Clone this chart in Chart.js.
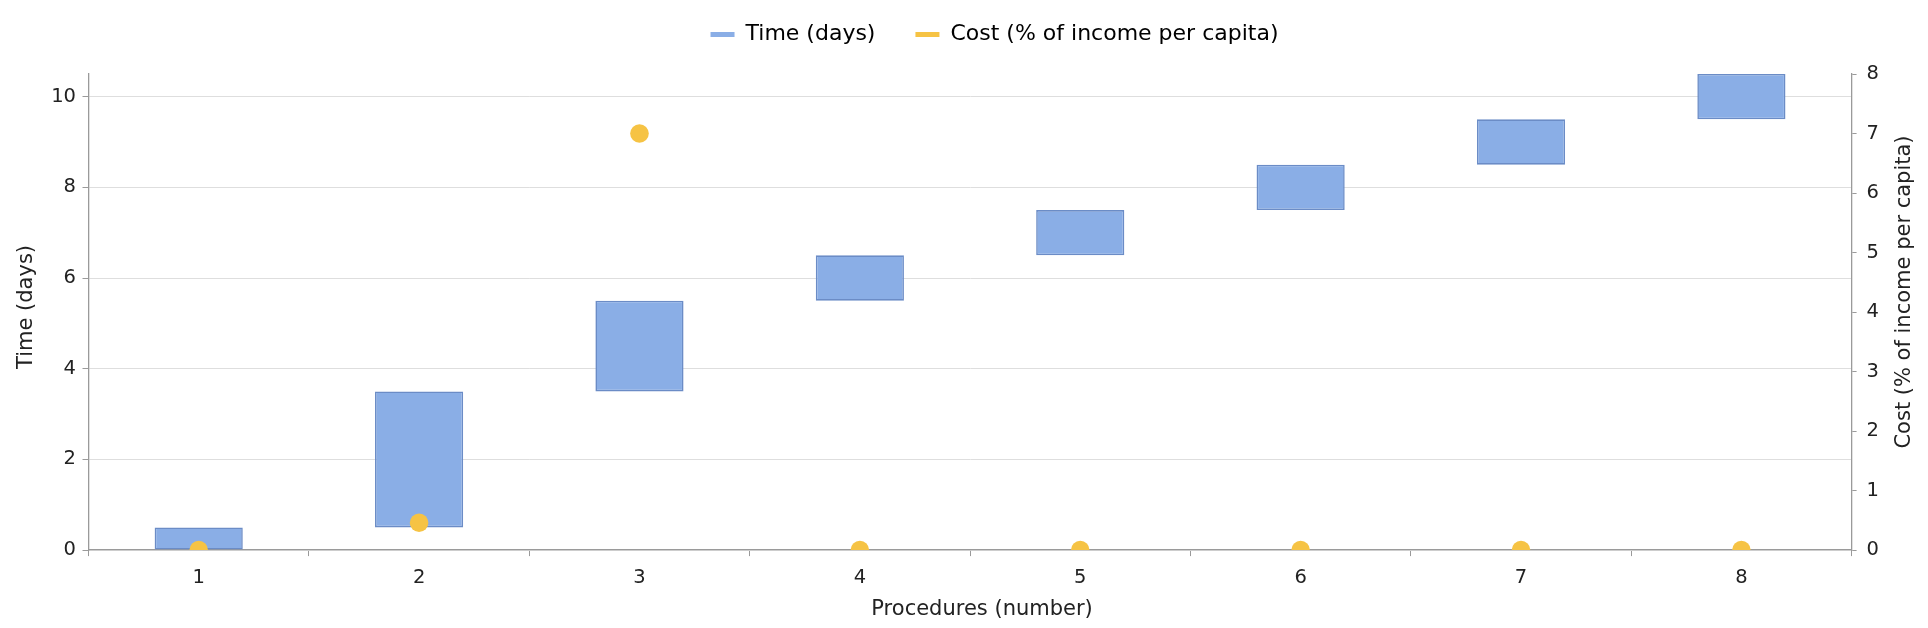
<!DOCTYPE html>
<html>
<head>
<meta charset="utf-8">
<script src="https://cdn.jsdelivr.net/npm/chart.js@4"></script>
<style>
  html, body { margin: 0; padding: 0; background: #ffffff; }
  #wrap { width: 1928px; height: 628px; position: relative; }
  canvas { display: block; }
</style>
</head>
<body>
<div id="wrap"><canvas id="c" width="1928" height="628"></canvas></div>
<script>
const categories = ['1', '2', '3', '4', '5', '6', '7', '8'];
const timeStart = [0, 0.5, 3.5, 5.5, 6.5, 7.5, 8.5, 9.5];
const timeEnd = [0.5, 3.5, 5.5, 6.5, 7.5, 8.5, 9.5, 10.5];
const costValues = [0, 0.46, 7.0, 0, 0, 0, 0, 0];
const seriesNames = ['Time (days)', 'Cost (% of income per capita)'];
const xTitle = 'Procedures (number)';
const yTitle = 'Time (days)';
const y1Title = 'Cost (% of income per capita)';

const BLUE = '#8aaee6';
const BLUE_BORDER = '#6b8cc6';
const YELLOW = '#f6c344';
const AXIS = '#9a9a9a';
const TEXT = '#222222';
const FONT = '"DejaVu Sans", sans-serif';

const timeRanges = timeStart.map((s, i) => [s, timeEnd[i]]);

const tweak = {
  id: 'tweak',
  beforeLayout(chart) {
    const lg = chart.legend;
    if (lg && !lg.__patched) {
      const orig = lg.fit;
      lg.fit = function () { orig.call(this); this.height = 74; };
      lg.__patched = true;
    }
  },
  afterLayout(chart) {
    const lg = chart.legend;
    if (lg) {
      lg.top -= 16.5; lg.bottom -= 16.5;
      lg.left += 30.5; lg.right += 30.5;
    }
  },
  afterDraw(chart) {
    const ctx = chart.ctx;
    const area = chart.chartArea;
    ctx.save();
    ctx.fillStyle = TEXT;
    ctx.font = '21px ' + FONT;
    ctx.textAlign = 'center';
    ctx.textBaseline = 'middle';
    ctx.fillText(xTitle, area.left + (area.right - area.left) / 2 + 12, 610);
    ctx.save();
    ctx.translate(chart.scales.y.left + 26.7, 307);
    ctx.rotate(-Math.PI / 2);
    ctx.fillText(yTitle, 0, 0);
    ctx.restore();
    ctx.save();
    ctx.translate(chart.scales.y1.right - 23, 292);
    ctx.rotate(-Math.PI / 2);
    ctx.fillText(y1Title, 0, 0);
    ctx.restore();
    ctx.restore();
  }
};

new Chart(document.getElementById('c'), {
  type: 'bar',
  data: {
    labels: categories,
    datasets: [
      {
        label: seriesNames[0],
        data: timeRanges,
        backgroundColor: BLUE,
        borderColor: BLUE_BORDER,
        borderWidth: 1.6,
        borderSkipped: false,
        barPercentage: 0.5,
        categoryPercentage: 0.8,
        yAxisID: 'y',
        order: 1
      },
      {
        type: 'line',
        label: seriesNames[1],
        data: costValues,
        showLine: false,
        clip: 0,
        pointRadius: 9.3,
        pointHoverRadius: 9.3,
        pointBackgroundColor: YELLOW,
        pointBorderWidth: 0,
        backgroundColor: YELLOW,
        borderColor: YELLOW,
        borderWidth: 0,
        yAxisID: 'y1',
        order: 0
      }
    ]
  },
  options: {
    responsive: false,
    maintainAspectRatio: false,
    animation: false,
    devicePixelRatio: 1,
    layout: { padding: 0 },
    plugins: {
      tooltip: { enabled: false },
      legend: {
        display: true,
        position: 'top',
        align: 'center',
        labels: {
          color: TEXT,
          font: { family: FONT, size: 22 },
          boxWidth: 24,
          boxHeight: 5,
          padding: 40,
          generateLabels(chart) {
            return [
              { text: seriesNames[0], fillStyle: BLUE, strokeStyle: BLUE, lineWidth: 0, datasetIndex: 0, hidden: false },
              { text: seriesNames[1], fillStyle: YELLOW, strokeStyle: YELLOW, lineWidth: 0, datasetIndex: 1, hidden: false }
            ];
          }
        }
      }
    },
    scales: {
      x: {
        type: 'category',
        offset: true,
        grid: {
          offset: true,
          drawOnChartArea: false,
          drawTicks: true,
          tickLength: 6,
          tickColor: AXIS,
          tickWidth: 1
        },
        border: { display: true, color: AXIS, width: 1.3 },
        ticks: {
          color: TEXT,
          font: { family: FONT, size: 19.5 },
          padding: 10,
          maxRotation: 0
        },
        title: {
          display: true,
          text: xTitle,
          color: 'rgba(0,0,0,0)',
          font: { family: FONT, size: 21, lineHeight: 1.0 },
          padding: { top: 0, bottom: 7.5 }
        }
      },
      y: {
        type: 'linear',
        position: 'left',
        min: 0,
        max: 10.5,
        grid: {
          color: '#dedede',
          lineWidth: 1,
          drawTicks: true,
          tickLength: 6,
          tickColor: AXIS
        },
        border: { display: true, color: AXIS, width: 1.3 },
        ticks: {
          stepSize: 2,
          includeBounds: false,
          color: TEXT,
          font: { family: FONT, size: 19.5 },
          padding: 6.5
        },
        title: {
          display: true,
          text: yTitle,
          color: 'rgba(0,0,0,0)',
          font: { family: FONT, size: 21, lineHeight: 1.0 },
          padding: { top: 16.2, bottom: 7.5 }
        }
      },
      y1: {
        type: 'linear',
        position: 'right',
        min: 0,
        max: 8,
        grid: {
          drawOnChartArea: false,
          drawTicks: true,
          tickLength: 5,
          tickColor: AXIS
        },
        border: { display: true, color: AXIS, width: 1.3 },
        ticks: {
          stepSize: 1,
          color: TEXT,
          font: { family: FONT, size: 19.5 },
          padding: 10
        },
        title: {
          display: true,
          text: y1Title,
          color: 'rgba(0,0,0,0)',
          font: { family: FONT, size: 21, lineHeight: 1.0 },
          padding: { top: 12.5, bottom: 5.5 }
        }
      }
    }
  },
  plugins: [tweak]
});
</script>
</body>
</html>
